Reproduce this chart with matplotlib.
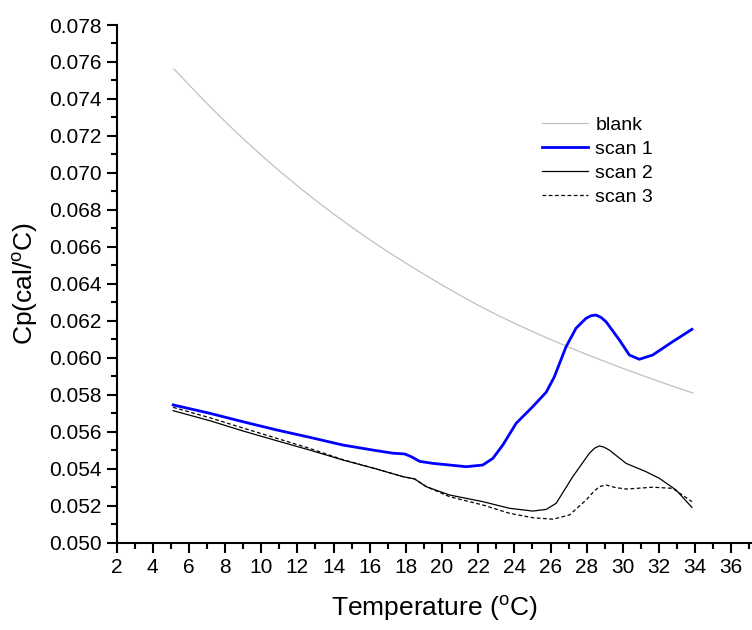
import matplotlib
matplotlib.use("Agg")
import matplotlib.pyplot as plt
from matplotlib.ticker import MultipleLocator, FormatStrFormatter

plt.rcParams['font.family'] = ['Liberation Sans', 'DejaVu Sans']

# values
blank_t = [5.18, 6, 7, 8, 9, 10, 11, 12, 13, 14, 15, 16, 17, 18, 19, 20, 21, 22, 23, 24, 25, 26, 27,
           28, 29, 30, 31, 32, 33, 33.86]
blank_cp = [0.07562, 0.07477, 0.07375, 0.07278, 0.07185, 0.07096, 0.07011, 0.0693, 0.06852, 0.06778,
            0.06707, 0.06639, 0.06574, 0.06512, 0.06452, 0.06394, 0.06338, 0.06284, 0.06234, 0.06187,
            0.06142, 0.06099, 0.06058, 0.06018, 0.0598, 0.05943, 0.05907, 0.05872, 0.05838, 0.0581]

scan1_t = [5.13, 7.15, 9.0, 10.84, 12.68, 14.52, 16.36, 17.28, 17.93, 18.3, 18.76, 19.49, 21.34, 22.25,
           22.81, 23.36, 24.1, 25.02, 25.76, 26.2, 26.86, 27.41, 27.97, 28.25, 28.52, 28.8, 29.07, 29.81,
           30.36, 30.91, 31.65, 32.75, 33.82]
scan1_cp = [0.05745, 0.0570, 0.05654, 0.0561, 0.0557, 0.05528, 0.05498, 0.05484, 0.0548, 0.05465, 0.0544,
            0.05429, 0.05411, 0.0542, 0.05456, 0.05528, 0.05646, 0.05736, 0.05814, 0.05895, 0.0606,
            0.0616, 0.06214, 0.06228, 0.06231, 0.06218, 0.06195, 0.06096, 0.06015, 0.05992, 0.06015,
            0.06087, 0.06154]

scan2_t = [5.13, 7.15, 9.0, 10.84, 12.68, 14.52, 16.36, 17.84, 18.48, 19.13, 20.41, 22.25, 23.73, 25.02,
           25.76, 26.31, 27.23, 28.15, 28.45, 28.7, 28.95, 29.25, 30.18, 31.28, 32.02, 32.94, 33.82]
scan2_cp = [0.05714, 0.0566, 0.05604, 0.05552, 0.05501, 0.05447, 0.05399, 0.05357, 0.05345, 0.05303,
            0.05258, 0.05222, 0.05186, 0.05171, 0.0518, 0.05213, 0.05357, 0.05484, 0.05512, 0.05523,
            0.05517, 0.05501, 0.05429, 0.05384, 0.05348, 0.05285, 0.05191]

scan3_t = [5.13, 7.15, 9.0, 10.84, 12.68, 14.52, 16.36, 17.84, 18.48, 19.13, 20.41, 22.25, 23.73, 25.02,
           26.13, 27.05, 27.97, 28.4, 28.7, 29.07, 29.6, 30.18, 31.65, 32.75, 33.82]
scan3_cp = [0.05732, 0.05676, 0.0562, 0.05565, 0.0551, 0.05449, 0.05399, 0.05357, 0.05345, 0.05303,
            0.05249, 0.05204, 0.05159, 0.05135, 0.05127, 0.0515, 0.05231, 0.05278, 0.05303, 0.05312,
            0.05298, 0.0529, 0.053, 0.05294, 0.05222]

fig = plt.figure(figsize=(7.52, 6.3), dpi=100)
ax = fig.add_axes([0.155, 0.1386, 0.844, 0.8217])

ax.plot(blank_t, blank_cp, color='#c0c0c0', lw=0.9, label='blank')
ax.plot(scan1_t, scan1_cp, color='#0000ff', lw=2.0, label='scan 1')
ax.plot(scan2_t, scan2_cp, color='black', lw=0.9, label='scan 2')
ax.plot(scan3_t, scan3_cp, color='black', lw=0.9, ls=(0, (3, 2)), label='scan 3')

ax.set_xlim(2, 37.1)
ax.set_ylim(0.050, 0.078)
ax.xaxis.set_major_locator(MultipleLocator(2))
ax.xaxis.set_minor_locator(MultipleLocator(1))
ax.yaxis.set_major_locator(MultipleLocator(0.002))
ax.yaxis.set_minor_locator(MultipleLocator(0.001))
ax.yaxis.set_major_formatter(FormatStrFormatter('%.3f'))

for s in ['top', 'right']:
    ax.spines[s].set_visible(False)
for s in ['left', 'bottom']:
    ax.spines[s].set_linewidth(1.5)
ax.tick_params(which='major', direction='out', length=7, width=1.5, labelsize=15, pad=4)
ax.tick_params(which='minor', direction='out', length=4, width=1.5)

ax.set_xlabel('Temperature ($\\mathregular{^{o}}$C)', fontsize=19, labelpad=12)
ax.set_ylabel('Cp(cal/$\\mathregular{^{o}}$C)', fontsize=19, labelpad=6)

ax.legend(loc='upper left', bbox_to_anchor=(0.643, 0.857), frameon=False, fontsize=14,
          handlelength=2.37, handletextpad=0.36, labelspacing=0.33)

fig.savefig('out.png', dpi=100)
